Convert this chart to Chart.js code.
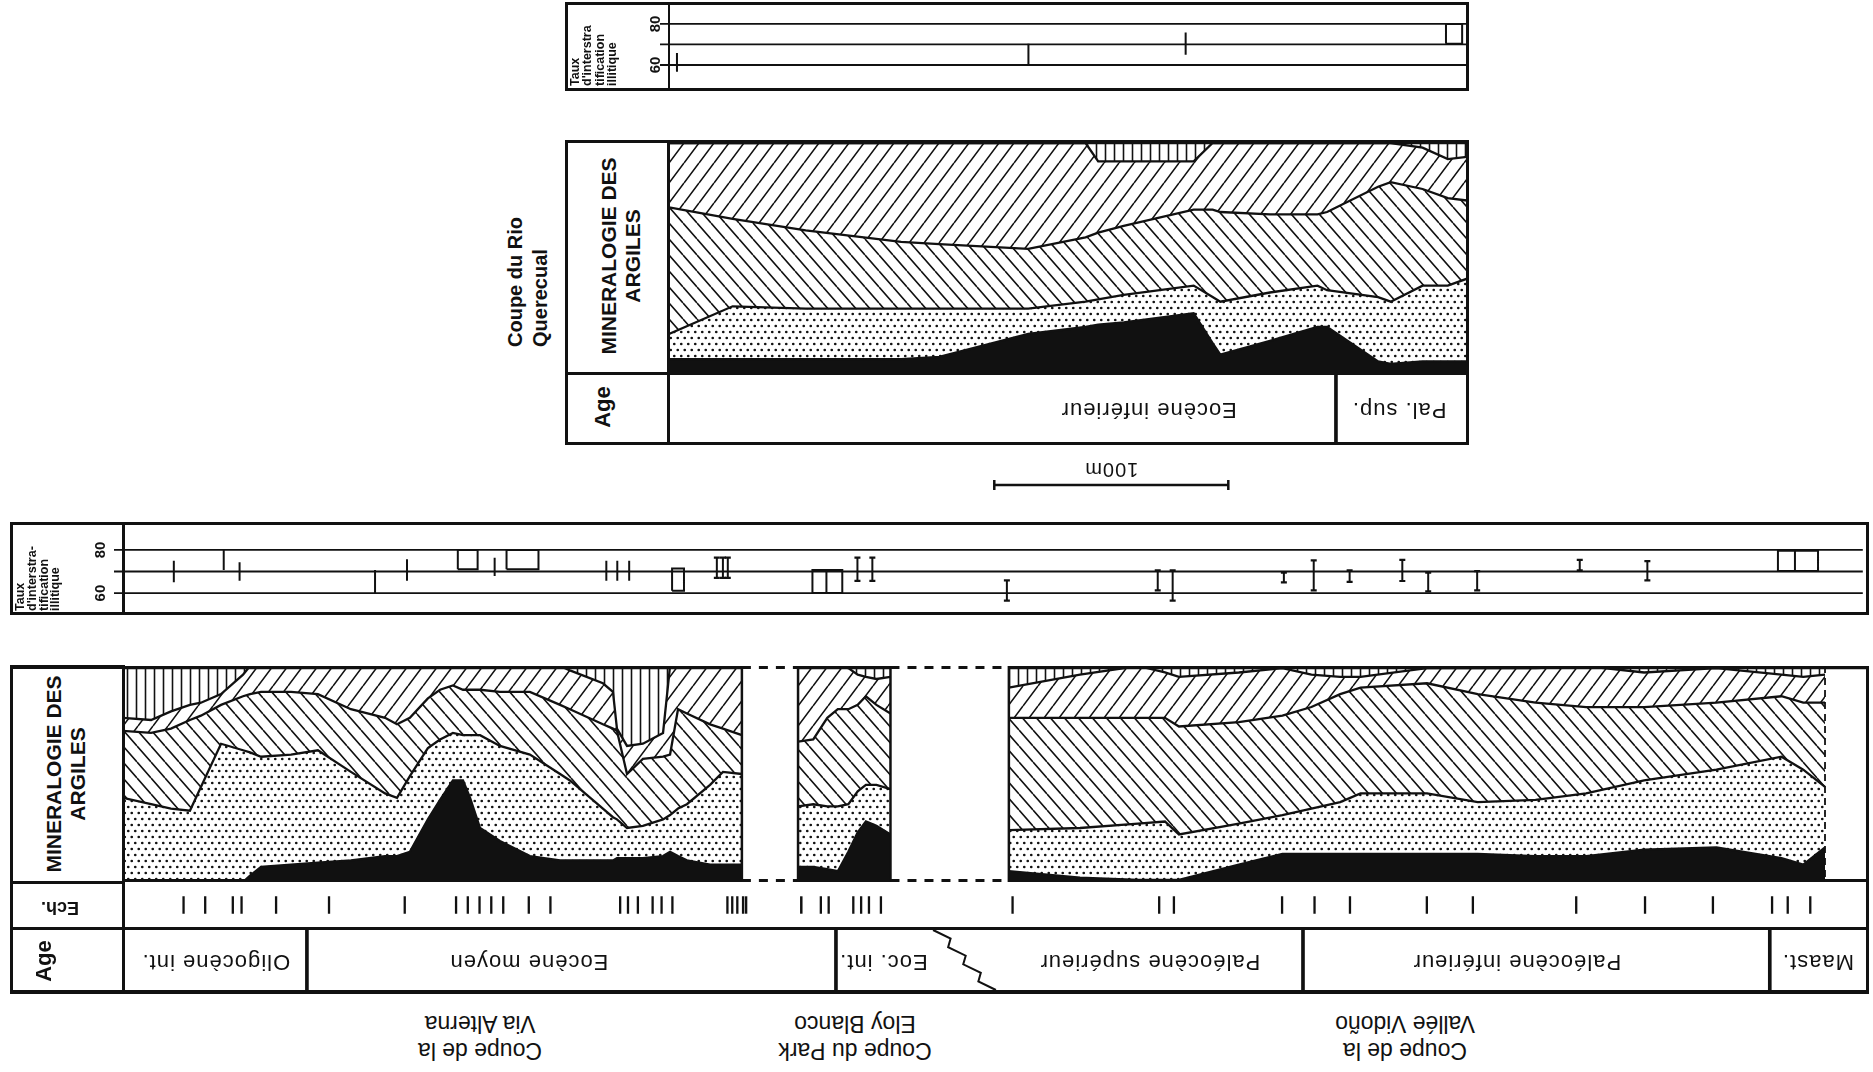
<!DOCTYPE html>
<html lang="fr">
<head>
<meta charset="utf-8">
<title>Minéralogie des argiles</title>
<script src="https://cdn.jsdelivr.net/npm/chart.js@4.4.1/dist/chart.umd.min.js"></script>
<style>
  html, body { margin: 0; padding: 0; background: #fff; }
  body { width: 1873px; height: 1072px; position: relative; overflow: hidden;
         font-family: "Liberation Sans", Arial, sans-serif; color: #111; }
  canvas { position: absolute; }
  .ink { position: absolute; background: #111; z-index: 2; }
  .txt { position: absolute; white-space: pre; z-index: 3; color: #111; }
</style>
</head>
<body>
<script>
// Coupe du Rio Querecual (positions in m along the section)
const querecualPos   = [0, 27.2, 58.4, 99.2, 115.5, 153.5, 178.0, 183.4, 194.3, 224.2, 232.3, 235.6, 256.8, 277.1, 281.2, 303.0, 308.4, 322.0, 332.8, 341.0];
const querecualSolid = [6, 6, 6, 6, 7, 17, 20, 21, 22, 26, 13, 8, 14, 20, 20, 5, 4, 5, 5, 5];
const querecualDots  = [11, 23, 22, 22, 21, 11, 11, 11, 12, 12, 20, 23, 21, 18, 16, 28, 27, 33, 33, 36];
const querecualBack  = [55, 38, 34, 29, 28, 26, 28, 29, 30, 33, 38, 39, 34, 31, 34, 48, 52, 42, 38, 34];
const querecualSlash = [28, 33, 38, 43, 44, 46, 41, 31, 28, 21, 29, 30, 31, 31, 30, 19, 17, 18, 17, 19];
const querecualVert  = [0, 0, 0, 0, 0, 0, 0, 8, 8, 8, 0, 0, 0, 0, 0, 0, 0, 2, 7, 6];

const querecualAges    = ['Eocène inférieur', 'Pal. sup.'];
const querecualAgeFrom = [0, 285];
const querecualAgeTo   = [285, 341];
const querecualAgeText = [205, 312];

const querecualRateAt   = [3.4, 153.4, 220.5, 331.6];
const querecualRateLow  = [56.7, 59.7, 65, 70.3];
const querecualRateHigh = [65.8, 70.3, 75.8, 80];
const querecualRateSpan = [0, 0, 0, 6.9];
const querecualRateCap  = [0, 0, 0, 0];

// Via Alterna, Park Eloy Blanco, Vallée Vidoño on one common axis (m)
const viaPos   = [0, 12.0, 20.5, 28.6, 33.3, 41.9, 51.3, 54.3, 59.0, 71.8, 83.3, 97.4, 112.0, 117.1, 122.6, 130.3, 135.5, 141.0, 145.3, 148.3, 152.6, 161.1, 173.9, 186.8, 191.0, 205.1, 209.4, 211.1, 215.4, 222.2, 230.8, 233.8, 237.2, 241.0, 250.9, 256.4, 264.5];
const viaSolid = [0, 0, 0, 0, 0, 0, 0, 3, 7, 8, 9, 10, 12, 12, 14, 29, 38, 47, 47, 39, 25, 19, 12, 10, 10, 10, 10, 11, 11, 11, 12, 14, 12, 10, 8, 8, 8];
const viaDots  = [39, 36, 34, 33, 44, 64, 61, 57, 51, 51, 52, 41, 29, 27, 35, 33, 28, 22, 21, 29, 43, 44, 47, 40, 37, 24, 20, 18, 14, 15, 17, 17, 22, 26, 37, 43, 42];
const viaBack  = [31, 33, 37, 42, 33, 18, 25, 27, 30, 29, 26, 29, 35, 34, 27, 23, 23, 22, 21, 21, 21, 25, 29, 32, 33, 39, 41, 41, 25, 31, 29, 28, 46, 42, 28, 20, 18];
const viaSlash = [6, 6, 8, 7, 6, 5, 10, 13, 12, 12, 13, 20, 24, 27, 24, 15, 11, 9, 11, 11, 11, 12, 12, 18, 18, 19, 17, 1, 13, 7, 11, 41, 20, 22, 27, 29, 32];
const viaVert  = [24, 25, 21, 18, 17, 13, 4, 0, 0, 0, 0, 0, 0, 0, 0, 0, 0, 0, 0, 0, 0, 0, 0, 0, 2, 8, 12, 29, 37, 36, 31, 0, 0, 0, 0, 0, 0];

const parkPos   = [288.5, 295, 301, 305.5, 310, 314, 317.5, 322, 328];
const parkSolid = [7, 7, 6, 5, 14, 23, 28, 26, 22];
const parkDots  = [28, 29, 29, 30, 22, 19, 17, 19, 21];
const parkBack  = [30, 30, 41, 45, 44, 40, 41, 37, 35];
const parkSlash = [35, 34, 24, 20, 19, 14, 9, 12, 17];
const parkVert  = [0, 0, 0, 0, 1, 4, 5, 6, 5];

const vidPos   = [378.6, 409.0, 433.8, 445.3, 451.3, 476.9, 495.5, 507.9, 520.2, 528.9, 557.3, 579.0, 603.7, 625.3, 650.1, 681.0, 708.8, 718.1, 727.4];
const vidSolid = [5, 2, 1, 1, 1, 8, 13, 13, 13, 13, 13, 13, 12, 12, 15, 16, 11, 8, 16];
const vidDots  = [19, 23, 26, 27, 21, 19, 18, 21, 24, 28, 28, 24, 26, 29, 32, 36, 47, 44, 28];
const vidBack  = [52, 51, 49, 48, 50, 47, 46, 47, 50, 49, 51, 50, 45, 40, 34, 31, 28, 31, 39];
const vidSlash = [14, 20, 24, 21, 23, 23, 22, 15, 8, 5, 7, 12, 16, 19, 16, 16, 10, 12, 13];
const vidVert  = [10, 4, 0, 3, 5, 3, 1, 4, 5, 5, 1, 1, 1, 0, 3, 1, 4, 5, 4];

const echPos = [20.1, 29.5, 41.5, 45.3, 60.3, 83.3, 116.2, 138.5, 143.6, 148.7, 153.8, 159.0, 170.1, 179.5, 209.8, 213.2, 217.5, 223.9, 227.8, 232.5, 256.4, 258.5, 260.7, 263.2,
                297.0, 300.4, 311.1, 314.5, 317.9, 323.1,
                380.3, 444.0, 450.4, 497.4, 511.5, 526.9, 560.3, 580.3, 625.2, 655.1, 684.6, 710.3, 717.1, 726.9];

const rateAt   = [21.8, 43.2, 50.0, 108.1, 121.8, 143.6, 159.4, 164.5, 207.3, 212.0, 217.1, 235.5, 254.7, 257.3, 259.4, 295.7, 301.7, 315.0, 321.4, 379.1, 443.8, 450.2, 497.9, 510.7, 526.1, 548.7, 559.8, 580.8, 624.8, 653.8, 709.8, 717.1];
const rateLow  = [65, 70.7, 65.7, 60, 65.7, 71, 67.9, 71, 65.7, 65.7, 65.7, 61.1, 67.1, 67.1, 67.1, 60, 60, 65.7, 65.7, 56.5, 61.3, 56.5, 65.0, 61.3, 65.2, 65.6, 60.8, 61.3, 70.5, 65.9, 70.2, 70.2];
const rateHigh = [75, 80, 74.3, 70.7, 75.7, 80, 76.4, 80, 75, 75, 75, 71.4, 76.4, 76.4, 76.4, 70.7, 70.7, 76.4, 76.4, 65.9, 70.5, 70.5, 69.5, 75.2, 70.5, 75.4, 69.5, 70.2, 75.4, 74.8, 79.6, 79.6];
const rateSpan = [0, 0, 0, 0, 0, 8.5, 0, 13.7, 0, 0, 0, 5.1, 0, 0, 0, 6.0, 6.8, 0, 0, 0, 0, 0, 0, 0, 0, 0, 0, 0, 0, 0, 7.3, 9.9];
const rateCap  = [0, 0, 0, 0, 0, 0, 0, 0, 0, 0, 0, 0, 1, 1, 1, 0, 0, 1, 1, 1, 1, 1, 1, 1, 1, 1, 1, 1, 1, 1, 0, 0];

const ages     = ['Oligocène int.', 'Eocène moyen', 'Eoc. int.', 'Paléocène supérieur', 'Paléocène inférieur', 'Maast.'];
const ageFrom  = [0, 78.6, 304.7, 359, 504.3, 703.8];
const ageTo    = [78.6, 304.7, 359, 504.3, 703.8, 746.2];
const ageText  = [39.7, 173.5, 325, 438.9, 595.7, 724.4];
const faultTop = 347.9, faultBottom = 370.5;

const rateTicks  = [60, 70, 80];
const rateLabels = [60, 80];
const scaleBarFrom = 139, scaleBarLength = 100;

const BOTTOM_LENGTH = 746.2;
const TOP_LENGTH = 341.0;
const LAYERS = ['noir', 'pointillé', 'hachures \\', 'hachures /', 'verticales'];
const FONT = '"Liberation Sans", Arial, sans-serif';

// ---- helpers ----
function canvasAt(left, top, w, h) {
  const c = document.createElement('canvas');
  c.width = w; c.height = h;
  c.style.left = left + 'px'; c.style.top = top + 'px';
  document.body.appendChild(c);
  return c.getContext('2d');
}

function rule(l, t, w, h) {
  const d = document.createElement('div');
  d.className = 'ink';
  Object.assign(d.style, { left: l + 'px', top: t + 'px', width: w + 'px', height: h + 'px' });
  document.body.appendChild(d);
}

function text(lines, x, y, font, lh, mode, align) {
  const d = document.createElement('div');
  d.className = 'txt';
  d.textContent = lines.join('\n');
  Object.assign(d.style, { left: x + 'px', top: y + 'px', font, lineHeight: lh + 'px', textAlign: align || 'center' });
  if (mode === 'up') { d.style.transformOrigin = '0 0'; d.style.transform = 'rotate(-90deg)'; }
  else d.style.transform = 'translate(-50%, -50%) rotate(' + mode + 'deg)';
  document.body.appendChild(d);
}

const TILE = { vert: [9, 10], slash: [15, 20], back: [14, 16], dots: [7, 12] };
function pattern(ctx, kind) {
  const [w, h] = TILE[kind];
  const t = document.createElement('canvas');
  t.width = w; t.height = h;
  const g = t.getContext('2d');
  g.strokeStyle = '#111'; g.fillStyle = '#111'; g.lineWidth = 1.6;
  if (kind === 'dots') {
    [[1.75, 3], [5.25, 9]].forEach(([px, py]) => { g.beginPath(); g.arc(px, py, 1.35, 0, 2 * Math.PI); g.fill(); });
  } else {
    g.beginPath();
    if (kind === 'vert') { g.moveTo(w / 2, 0); g.lineTo(w / 2, h); }
    if (kind === 'slash') [-w, 0, w].forEach(o => { g.moveTo(o, h); g.lineTo(o + w, 0); });
    if (kind === 'back') [-w, 0, w].forEach(o => { g.moveTo(o, 0); g.lineTo(o + w, h); });
    g.stroke();
  }
  return ctx.createPattern(t, 'repeat');
}

function layerFills(ctx) {
  return ['#111', pattern(ctx, 'dots'), pattern(ctx, 'back'), pattern(ctx, 'slash'), pattern(ctx, 'vert')];
}

function layerSets(fills, stack, pos, layers) {
  return layers.map((vals, i) => ({
    label: stack + ' ' + LAYERS[i],
    stack,
    data: pos.map((x, k) => ({ x, y: vals[k] })),
    fill: i === 0 ? 'origin' : '-1',
    backgroundColor: fills[i],
    borderColor: '#111',
    borderWidth: 2.3,
    pointRadius: 0,
    tension: 0,
  }));
}

function rateSegments(at, low, high, span, pick) {
  const pts = [];
  at.forEach((x, i) => {
    if (!pick(i)) return;
    const x1 = x + span[i];
    if (span[i] > 0) pts.push({ x, y: low[i] }, { x, y: high[i] }, { x: x1, y: high[i] }, { x: x1, y: low[i] }, { x, y: low[i] });
    else pts.push({ x, y: low[i] }, { x, y: high[i] });
    pts.push({ x: x1, y: null });
  });
  return pts;
}

function baseOptions(xMax, yMin, yMax, extra) {
  return Object.assign({
    responsive: false, animation: false, devicePixelRatio: 1, events: [],
    plugins: { legend: { display: false }, tooltip: { enabled: false } },
    scales: {
      x: { type: 'linear', display: false, min: 0, max: xMax },
      y: { display: false, min: yMin, max: yMax },
    },
  }, extra || {});
}

// gridlines at 60/70/80 with the rotated tick labels in the label column
function rateGrid(gap) {
  return {
    id: 'rateGrid',
    beforeDatasetsDraw(chart) {
      const { ctx, chartArea: a, scales: { y } } = chart;
      ctx.save();
      ctx.strokeStyle = '#111'; ctx.lineWidth = 1.8;
      rateTicks.forEach(v => {
        const py = y.getPixelForValue(v);
        ctx.beginPath(); ctx.moveTo(a.left - 9, py); ctx.lineTo(a.right, py); ctx.stroke();
      });
      ctx.fillStyle = '#111'; ctx.font = 'bold 15px ' + FONT;
      ctx.textAlign = 'center'; ctx.textBaseline = 'middle';
      rateLabels.forEach(v => {
        ctx.save();
        ctx.translate(a.left - gap, y.getPixelForValue(v));
        ctx.rotate(-Math.PI / 2);
        ctx.fillText(String(v), 0, 0);
        ctx.restore();
      });
      ctx.restore();
    },
  };
}

function rateChart(ctx, at, low, high, span, cap, xMax, yMin, yMax, padLeft, gap) {
  return new Chart(ctx, {
    type: 'line',
    data: {
      datasets: [
        { label: 'taux', data: rateSegments(at, low, high, span, i => !cap[i]),
          borderColor: '#111', borderWidth: 2, pointRadius: 0, spanGaps: false },
        { label: 'taux (bornes)', data: rateSegments(at, low, high, span, i => !!cap[i]),
          borderColor: '#111', borderWidth: 2, spanGaps: false,
          pointStyle: 'line', pointRadius: 3, pointBorderWidth: 2.2, pointBorderColor: '#111' },
      ],
    },
    options: baseOptions(xMax, yMin, yMax, { layout: { padding: { left: padLeft } } }),
    plugins: [rateGrid(gap)],
  });
}

function ageLabels(names, at, extra) {
  return {
    id: 'ageLabels',
    afterDatasetsDraw(chart) {
      const { ctx, chartArea: a, scales: { x } } = chart;
      const cy = (a.top + a.bottom) / 2;
      ctx.save();
      ctx.fillStyle = '#111'; ctx.strokeStyle = '#111';
      ctx.font = '22px ' + FONT;
      if ('letterSpacing' in ctx) ctx.letterSpacing = '1px';
      ctx.textAlign = 'center'; ctx.textBaseline = 'middle';
      names.forEach((name, i) => {
        ctx.save();
        ctx.translate(x.getPixelForValue(at[i]), cy + 1);
        ctx.rotate(Math.PI);
        ctx.fillText(name, 0, 0);
        ctx.restore();
      });
      if (extra) extra(chart);
      ctx.restore();
    },
  };
}

function ageChart(ctx, names, from, to, xMax, fault, pad, plugin) {
  const last = names.length - 1;
  return new Chart(ctx, {
    type: 'bar',
    data: {
      labels: [''],
      datasets: names.map((name, i) => ({
        label: name,
        data: [[from[i], to[i]]],
        backgroundColor: 'rgba(0,0,0,0)',
        borderColor: '#111',
        borderWidth: {
          top: 0, bottom: 0,
          left: i === 0 || (fault >= 0 && i === fault + 1) ? 0 : 1.5,
          right: i === last || i === fault ? 0 : 1.5,
        },
        borderSkipped: false,
        barPercentage: 1, categoryPercentage: 1, grouped: false,
      })),
    },
    options: baseOptions(xMax, undefined, undefined, {
      indexAxis: 'y',
      layout: { padding: pad || 0 },
      scales: {
        x: { type: 'linear', display: false, min: 0, max: xMax },
        y: { display: false },
      },
    }),
    plugins: [plugin],
  });
}

// ---- frames and static labels ----
// top strip
rule(565, 2, 903, 2.5); rule(565, 88, 903, 2.5); rule(565, 2, 2.5, 88.5); rule(1466, 2, 2.5, 88.5); rule(667.5, 2, 2.5, 88.5);
// top mineralogy + age
rule(565, 140, 903, 3); rule(565, 442, 903, 3); rule(565, 140, 3, 305); rule(1466, 140, 3, 305);
rule(667, 140, 2.5, 305); rule(565, 372, 903, 2.5);
// bottom strip
rule(10, 522, 1859, 3); rule(10, 612, 1859, 3); rule(10, 522, 3, 93); rule(1866, 522, 3, 93); rule(122, 522, 2.5, 93);
// bottom block label column, Ech row, Age row
rule(10, 665, 3, 328); rule(10, 665, 113, 3.5); rule(122, 665, 2.5, 328); rule(10, 881, 113, 2.5);
rule(10, 927, 1859, 2.5); rule(10, 990, 1859, 4); rule(1866, 881, 3, 112);

text(['Taux', "d'interstra", 'tification', 'illitique'], 569, 86, 'bold 12.5px ' + FONT, 12.3, 'up', 'left');
text(['Taux', "d'interstra-", 'tification', 'illitique'], 15, 611, 'bold 12.5px ' + FONT, 11.8, 'up', 'left');
text(['MINERALOGIE DES', 'ARGILES'], 621, 256, 'bold 21px ' + FONT, 24, -90);
text(['MINERALOGIE DES', 'ARGILES'], 66, 774, 'bold 21px ' + FONT, 24, -90);
text(['Age'], 603, 407, 'bold 22px ' + FONT, 24, -90);
text(['Age'], 44, 961, 'bold 22px ' + FONT, 24, -90);
text(['Ech.'], 60, 908, 'bold 18px ' + FONT, 20, 180);
text(['Coupe du Rio', 'Querecual'], 503, 347, 'bold 20px ' + FONT, 25, 'up', 'left');
text(['Coupe de la', 'Via Alterna'], 480, 1037, '23px ' + FONT, 27, 180);
text(['Coupe du Park', 'Eloy Blanco'], 855, 1037, '23px ' + FONT, 27, 180);
text(['Coupe de la', 'Vallée Vidoño'], 1405, 1037, '23px ' + FONT, 27, 180);

// ---- charts ----
Chart.defaults.font.family = FONT;

rateChart(canvasAt(565, 3, 903, 86), querecualRateAt, querecualRateLow, querecualRateHigh,
  querecualRateSpan, querecualRateCap, TOP_LENGTH, 48.3, 90.2, 104, 13);

rateChart(canvasAt(10, 523, 1859, 91), rateAt, rateLow, rateHigh, rateSpan, rateCap,
  BOTTOM_LENGTH, 53.2, 89.6, 113, 22);

{
  const ctx = canvasAt(669, 143, 798, 230);
  const fills = layerFills(ctx);
  new Chart(ctx, {
    type: 'line',
    data: { datasets: layerSets(fills, 'querecual', querecualPos,
      [querecualSolid, querecualDots, querecualBack, querecualSlash, querecualVert]) },
    options: baseOptions(TOP_LENGTH, 0, 100, {
      scales: {
        x: { type: 'linear', display: false, min: 0, max: TOP_LENGTH },
        y: { display: false, stacked: true, min: 0, max: 100 },
      },
    }),
  });
}

// section outlines: solid boxes, dashed joins across the gaps
const sectionStart = [viaPos[0], parkPos[0], vidPos[0]];
const sectionEnd = [viaPos[viaPos.length - 1], parkPos[parkPos.length - 1], vidPos[vidPos.length - 1]];

const sectionFrames = {
  id: 'sectionFrames',
  afterDatasetsDraw(chart) {
    const { ctx, chartArea: a, scales: { x } } = chart;
    const top = a.top + 1.5, bot = a.bottom - 1.5;
    const seg = (x0, y0, x1, y1, w, dash) => {
      ctx.lineWidth = w; ctx.setLineDash(dash || []);
      ctx.beginPath(); ctx.moveTo(x0, y0); ctx.lineTo(x1, y1); ctx.stroke();
    };
    ctx.save();
    ctx.strokeStyle = '#111';
    const last = sectionStart.length - 1;
    sectionStart.forEach((s, i) => {
      const x0 = x.getPixelForValue(s), x1 = x.getPixelForValue(sectionEnd[i]);
      seg(x0, top, x1, top, 3.5); seg(x0, bot, x1, bot, 3);
      seg(x0, a.top, x0, a.bottom, 2.5);
      seg(x1, a.top, x1, a.bottom, i === last ? 1.8 : 2.5, i === last ? [7, 5] : null);
      if (i < last) {
        const xn = x.getPixelForValue(sectionStart[i + 1]);
        seg(x1, top, xn, top, 3, [9, 8]); seg(x1, bot, xn, bot, 3, [9, 8]);
      }
    });
    const xe = x.getPixelForValue(sectionEnd[last]);
    seg(xe, top, a.right, top, 3.5); seg(xe, bot, a.right, bot, 3);
    seg(a.right - 1.5, a.top, a.right - 1.5, a.bottom, 3);
    ctx.restore();
  },
};

{
  const ctx = canvasAt(123, 666, 1746, 216);
  const fills = layerFills(ctx);
  new Chart(ctx, {
    type: 'line',
    data: {
      datasets: [
        ...layerSets(fills, 'via', viaPos, [viaSolid, viaDots, viaBack, viaSlash, viaVert]),
        ...layerSets(fills, 'park', parkPos, [parkSolid, parkDots, parkBack, parkSlash, parkVert]),
        ...layerSets(fills, 'vid', vidPos, [vidSolid, vidDots, vidBack, vidSlash, vidVert]),
      ],
    },
    options: baseOptions(BOTTOM_LENGTH, 0, 100, {
      scales: {
        x: { type: 'linear', display: false, min: 0, max: BOTTOM_LENGTH },
        y: { display: false, stacked: true, min: 0, max: 100 },
      },
    }),
    plugins: [sectionFrames],
  });
}

// sample ticks (Ech.)
new Chart(canvasAt(123, 882, 1746, 46), {
  type: 'scatter',
  data: {
    datasets: [{
      label: 'Ech.',
      data: echPos.map(x => ({ x, y: 0.5 })),
      pointStyle: 'line', rotation: 90, pointRadius: 12,
      pointBorderWidth: 2.3, pointBorderColor: '#111',
    }],
  },
  options: baseOptions(BOTTOM_LENGTH, 0, 1),
  plugins: [{
    id: 'echBorders',
    afterDatasetsDraw(chart) {
      const { ctx, chartArea: a, scales: { x } } = chart;
      ctx.save();
      ctx.strokeStyle = '#111'; ctx.lineWidth = 2.5;
      [sectionEnd[0], sectionStart[1]].forEach(v => {
        const px = x.getPixelForValue(v);
        ctx.beginPath(); ctx.moveTo(px, a.top); ctx.lineTo(px, a.bottom); ctx.stroke();
      });
      ctx.restore();
    },
  }],
});

// ages, bottom row with the faulted contact
ageChart(canvasAt(123, 928, 1746, 64), ages, ageFrom, ageTo, BOTTOM_LENGTH, 2, 0,
  ageLabels(ages, ageText, chart => {
    const { ctx, chartArea: a, scales: { x } } = chart;
    const x0 = x.getPixelForValue(faultTop), x1 = x.getPixelForValue(faultBottom);
    const n = 7;
    ctx.lineWidth = 2;
    ctx.beginPath();
    for (let k = 0; k <= n; k++) {
      const t = k / n;
      const px = x0 + (x1 - x0) * t + (k % 2 ? 6 : -4);
      const py = a.top + 2 + (a.bottom - a.top - 4) * t;
      if (k === 0) ctx.moveTo(px, py); else ctx.lineTo(px, py);
    }
    ctx.stroke();
  }));

// ages, top row, plus the 100 m scale bar below it
ageChart(canvasAt(669, 373, 798, 127), querecualAges, querecualAgeFrom, querecualAgeTo, TOP_LENGTH, -1,
  { bottom: 56 },
  ageLabels(querecualAges, querecualAgeText, chart => {
    const { ctx, chartArea: a, scales: { x } } = chart;
    const x0 = x.getPixelForValue(scaleBarFrom);
    const x1 = x.getPixelForValue(scaleBarFrom + scaleBarLength);
    const y = a.bottom + 41;
    ctx.lineWidth = 2.5;
    ctx.beginPath();
    ctx.moveTo(x0, y); ctx.lineTo(x1, y);
    ctx.moveTo(x0, y - 5); ctx.lineTo(x0, y + 5);
    ctx.moveTo(x1, y - 5); ctx.lineTo(x1, y + 5);
    ctx.stroke();
    ctx.font = '20px ' + FONT;
    ctx.save();
    ctx.translate((x0 + x1) / 2, y - 16);
    ctx.rotate(Math.PI);
    ctx.fillText(scaleBarLength + 'm', 0, 0);
    ctx.restore();
  }));
</script>
</body>
</html>
